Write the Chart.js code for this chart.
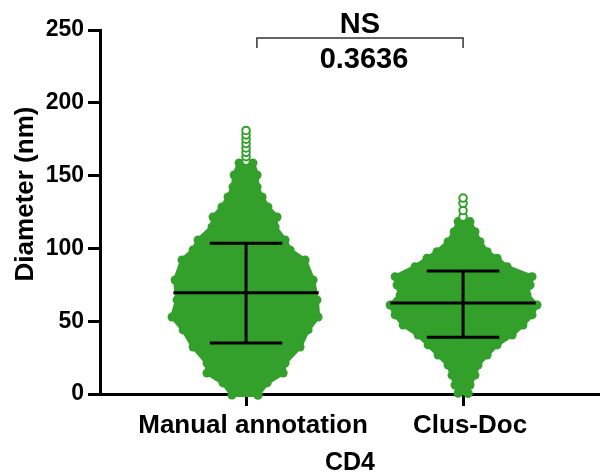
<!DOCTYPE html>
<html>
<head>
<meta charset="utf-8">
<script src="https://cdn.jsdelivr.net/npm/chart.js@4.4.0/dist/chart.umd.min.js"></script>
<style>
  html, body { margin: 0; padding: 0; background: #fff; }
  #wrap { width: 600px; height: 476px; position: relative; }
</style>
</head>
<body>
<div id="wrap"><canvas id="grafico"></canvas></div>
<script>
// === DADOS ===
const grupos = ['Manual annotation', 'Clus-Doc'];
const posicoes = [1, 2];
const ticksY = [0, 50, 100, 150, 200, 250];

// contorno do enxame: diâmetro (nm) de baixo para cima, e largura para cada lado
const manualValores = [-0.7, 7.6, 14.4, 21.3, 32.3, 44.0, 52.9, 64.6, 78.3, 92.0, 98.9, 105.8, 114.7, 121.6, 128.4, 135.3, 142.2, 150.4, 158.7];
const manualEsq = [-0.065, -0.106, -0.180, -0.180, -0.244, -0.290, -0.341, -0.318, -0.327, -0.295, -0.244, -0.221, -0.157, -0.152, -0.111, -0.083, -0.060, -0.055, -0.032];
const manualDir = [0.055, 0.097, 0.171, 0.180, 0.249, 0.286, 0.332, 0.327, 0.309, 0.272, 0.203, 0.180, 0.134, 0.143, 0.101, 0.074, 0.051, 0.051, 0.032];
const manualExtremos = [160, 163, 166, 169, 172, 175, 178, 181];

const clusValores = [0.5, 6.2, 13.0, 19.9, 26.8, 33.7, 40.5, 47.4, 54.3, 61.1, 68.0, 74.9, 80.6, 87.4, 93.2, 97.7, 104.6, 111.5, 118.4];
const clusEsq = [-0.023, -0.037, -0.051, -0.069, -0.115, -0.161, -0.207, -0.276, -0.313, -0.336, -0.290, -0.304, -0.313, -0.221, -0.166, -0.120, -0.069, -0.041, -0.023];
const clusDir = [0.023, 0.032, 0.055, 0.069, 0.111, 0.157, 0.226, 0.276, 0.318, 0.341, 0.295, 0.309, 0.318, 0.203, 0.157, 0.111, 0.078, 0.055, 0.032];
const clusExtremos = [121.6, 126, 131, 134.6];

// média e desvio padrão
const medias = [69.5, 62.5];
const sdSup = [103.5, 84.5];
const sdInf = [35, 39];

// comparação
const comparacaoTexto = 'NS';
const pValor = '0.3636';

const VERDE = '#33a02c';
const FONTE = "Arial, 'Liberation Sans', sans-serif";

// === MONTAGEM DOS DATASETS ===
function contorno(pos, vals, esq, dir) {
  const pts = [];
  for (let i = 0; i < vals.length; i++) pts.push({ x: pos + dir[i], y: vals[i] });
  for (let i = vals.length - 1; i >= 0; i--) pts.push({ x: pos + esq[i], y: vals[i] });
  pts.push(pts[0]);
  return pts;
}

function enxame(pts) {
  return {
    data: pts,
    showLine: true,
    fill: 'shape',
    backgroundColor: VERDE,
    borderColor: VERDE,
    borderWidth: 4,
    borderJoinStyle: 'round',
    tension: 0,
    pointRadius: 4.5,
    pointBorderWidth: 0,
    pointBackgroundColor: VERDE,
    clip: false,
    order: 3
  };
}

function extremos(pos, vals) {
  return {
    data: vals.map(v => ({ x: pos, y: v })),
    showLine: false,
    pointRadius: 3.8,
    borderWidth: 2,
    borderColor: VERDE,
    backgroundColor: '#fff',
    clip: false,
    order: 2
  };
}

function linha(pts) {
  return {
    data: pts,
    showLine: true,
    fill: false,
    borderColor: '#000',
    borderWidth: 3,
    pointRadius: 0,
    clip: false,
    order: 0
  };
}

const larguraMedia = 0.335;
const larguraBarra = 0.167;

const datasets = [
  enxame(contorno(posicoes[0], manualValores, manualEsq, manualDir)),
  enxame(contorno(posicoes[1], clusValores, clusEsq, clusDir)),
  extremos(posicoes[0], manualExtremos),
  extremos(posicoes[1], clusExtremos)
];

posicoes.forEach((p, i) => {
  datasets.push(linha([{ x: p - larguraMedia, y: medias[i] }, { x: p + larguraMedia, y: medias[i] }]));
  datasets.push(linha([{ x: p, y: sdInf[i] }, { x: p, y: sdSup[i] }]));
  datasets.push(linha([{ x: p - larguraBarra, y: sdSup[i] }, { x: p + larguraBarra, y: sdSup[i] }]));
  datasets.push(linha([{ x: p - larguraBarra, y: sdInf[i] }, { x: p + larguraBarra, y: sdInf[i] }]));
});

// === ANOTAÇÕES (título do eixo Y, colchete NS) ===
const anotacoes = {
  id: 'anotacoes',
  afterDraw(chart) {
    const { ctx, scales: { x, y } } = chart;
    ctx.save();

    // título do eixo Y
    ctx.fillStyle = '#000';
    ctx.font = 'bold 26px ' + FONTE;
    ctx.textAlign = 'center';
    ctx.textBaseline = 'middle';
    ctx.translate(26, 194);
    ctx.rotate(-Math.PI / 2);
    ctx.fillText('Diameter (nm)', 0, 0);
    ctx.setTransform(1, 0, 0, 1, 0, 0);

    // colchete
    const x1 = x.getPixelForValue(1.05);
    const x2 = x.getPixelForValue(2);
    const yl = y.getPixelForValue(244.5);
    ctx.strokeStyle = '#333';
    ctx.lineWidth = 1.5;
    ctx.beginPath();
    ctx.moveTo(x1, yl + 10);
    ctx.lineTo(x1, yl);
    ctx.lineTo(x2, yl);
    ctx.lineTo(x2, yl + 10);
    ctx.stroke();

    const xm = (x1 + x2) / 2;
    ctx.fillStyle = '#000';
    ctx.font = 'bold 29px ' + FONTE;
    ctx.textBaseline = 'alphabetic';
    ctx.fillText(comparacaoTexto, xm, yl - 5);
    ctx.fillText(pValor, xm + 4, yl + 30);
    ctx.restore();
  }
};

// === GRÁFICO ===
new Chart(document.getElementById('grafico'), {
  type: 'scatter',
  data: { datasets },
  options: {
    responsive: true,
    maintainAspectRatio: false,
    animation: false,
    devicePixelRatio: 1,
    events: [],
    layout: { autoPadding: false, padding: { top: 30, right: 0, bottom: 0, left: 0 } },
    plugins: {
      legend: { display: false },
      tooltip: { enabled: false }
    },
    scales: {
      x: {
        type: 'linear',
        min: 0.327,
        max: 2.631,
        afterBuildTicks: axis => { axis.ticks = posicoes.map(v => ({ value: v })); },
        afterFit: scale => { scale.height = 82; },
        border: { color: '#000', width: 3 },
        grid: { drawOnChartArea: false, color: '#000', lineWidth: 3, tickLength: 12 },
        ticks: {
          color: '#000',
          padding: 4,
          labelOffset: 7,
          maxRotation: 0,
          font: { family: FONTE, size: 26, weight: 'bold' },
          callback: (v, i) => grupos[i]
        },
        title: {
          display: true,
          text: 'CD4',
          color: '#000',
          padding: { top: 0, bottom: 0 },
          font: { family: FONTE, size: 25, weight: 'bold', lineHeight: 1 }
        }
      },
      y: {
        min: 0,
        max: 250,
        afterBuildTicks: axis => { axis.ticks = ticksY.map(v => ({ value: v })); },
        afterFit: scale => { scale.width = 100; },
        border: { color: '#000', width: 3 },
        grid: { drawOnChartArea: false, color: '#000', lineWidth: 3, tickLength: 12 },
        ticks: {
          color: '#000',
          padding: 4,
          font: { family: FONTE, size: 23, weight: 'bold' }
        }
      }
    }
  },
  plugins: [anotacoes]
});
</script>
</body>
</html>
